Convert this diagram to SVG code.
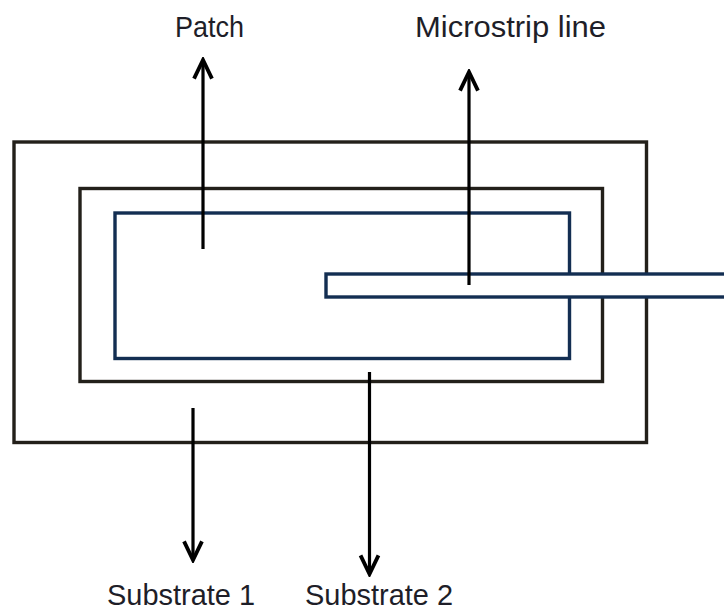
<svg xmlns="http://www.w3.org/2000/svg" width="724" height="613" viewBox="0 0 724 613">
<style>
.sub{fill:none;stroke:#23201a;stroke-width:3.4}
.cu{fill:none;stroke:#132e52;stroke-width:3.4}
.strip{fill:#fff;stroke:#132e52;stroke-width:3.4}
.ar{fill:none;stroke:#000;stroke-width:3.2;marker-end:url(#ah)}
.lbl{font-family:"Liberation Sans",Arial,sans-serif;font-size:30px;fill:#1e1e28}
</style>
<defs>
<marker id="ah" markerWidth="8" markerHeight="8" viewBox="0 0 8 8" refX="7" refY="4" orient="auto" markerUnits="strokeWidth">
<path d="M1.2,1.2 L7,4 L1.2,6.8" fill="none" stroke="#000" stroke-width="1.2" stroke-linejoin="miter"/>
</marker>
</defs>
<rect width="724" height="613" fill="#fff"/>
<g id="substrate1"><rect class="sub" x="14" y="142" width="632.5" height="300.5"/></g>
<g id="substrate2"><rect class="sub" x="80" y="188.5" width="522.5" height="193"/></g>
<g id="patch"><rect class="cu" x="115" y="213" width="454.5" height="145.5"/></g>
<g id="microstrip"><rect class="strip" x="326" y="274" width="402" height="23"/></g>
<g id="connectors">
<line class="ar" x1="203" y1="249" x2="203" y2="60"/>
<line class="ar" x1="469" y1="285" x2="469" y2="72"/>
<line class="ar" x1="193" y1="408" x2="193" y2="560"/>
<line class="ar" x1="369.5" y1="372" x2="369.5" y2="574"/>
</g>
<g id="labels">
<text class="lbl" x="175" y="37" textLength="69" lengthAdjust="spacingAndGlyphs">Patch</text>
<text class="lbl" x="415" y="37" textLength="191" lengthAdjust="spacingAndGlyphs">Microstrip line</text>
<text class="lbl" x="107" y="605" textLength="148" lengthAdjust="spacingAndGlyphs">Substrate 1</text>
<text class="lbl" x="305" y="605" textLength="148" lengthAdjust="spacingAndGlyphs">Substrate 2</text>
</g>
</svg>
